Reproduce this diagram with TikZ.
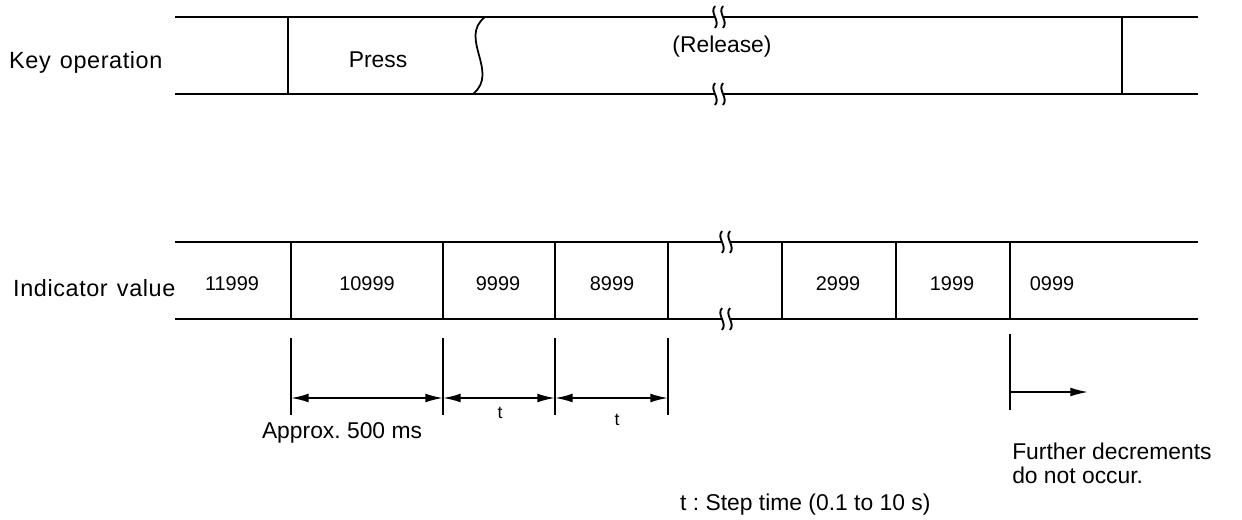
\documentclass[tikz,border=0pt]{standalone}
\usepackage{fontspec}
\setmainfont{Liberation Sans}
\newfontfamily\rowfont[LetterSpace=2.5,WordSpace=1.3]{Liberation Sans}
\usetikzlibrary{arrows.meta}
\frenchspacing

\tikzset{
  rail/.style={line width=2.1pt},
  divider/.style={line width=1.5pt},
  extline/.style={line width=1.2pt},
  breakmark/.style={line width=1.6pt},
  dimline/.style={line width=1.5pt, {Latex[length=15pt,width=7.5pt]}-{Latex[length=15pt,width=7.5pt]}},
  fwdline/.style={line width=1.4pt, -{Latex[length=15pt,width=7.5pt]}},
  rowlabel/.style={anchor=west, inner sep=0pt, font=\rowfont\fontsize{20}{24}\selectfont},
  note/.style={inner sep=0pt, font=\fontsize{19.5}{20.5}\selectfont},
  cellvalue/.style={inner sep=0pt, font=\fontsize{17}{20}\selectfont},
  steplbl/.style={inner sep=0pt, font=\fontsize{15}{17}\selectfont},
}

\begin{document}
\begin{tikzpicture}[x=0.03cm,y=-0.03cm]
  \useasboundingbox (0,0) rectangle (1242,519);

  % key operation row
  \draw[rail] (175,17) -- (715,17) (723,17) -- (1198,17);
  \draw[rail] (175,94) -- (715,94) (723,94) -- (1198,94);
  \draw[divider] (288,17) -- (288,94);
  \draw[divider] (1122,17) -- (1122,94);
  \draw[divider] (485,17) .. controls (458,38) and (500,72) .. (473,94);

  \node[rowlabel] (keylbl) at (9,62) {Key operation};
  \node[note] (press) at (378,60) {Press};
  \node[note] (release) at (722,47) {(Release)};

  % indicator row
  \draw[rail] (175,242) -- (722,242) (730,242) -- (1198,242);
  \draw[rail] (175,319) -- (722,319) (730,319) -- (1198,319);
  \foreach \x in {291,443,555,668,782,896,1010}
    \draw[divider] (\x,242) -- (\x,319);

  % break marks
  \foreach \bx/\by in {719/17, 719/94, 726/242, 726/319} {
    \draw[breakmark] (\bx-4,\by-11) .. controls (\bx-10,\by-4) and (\bx+2,\by+4) .. (\bx-4,\by+11);
    \draw[breakmark] (\bx+4,\by-11) .. controls (\bx-2,\by-4) and (\bx+10,\by+4) .. (\bx+4,\by+11);
  }

  \node[rowlabel] (indlbl) at (13,288) {Indicator value};
  \node[cellvalue] (v11999) at (232,284) {11999};
  \node[cellvalue] (v10999) at (367,284) {10999};
  \node[cellvalue] (v9999) at (498,284) {9999};
  \node[cellvalue] (v8999) at (612,284) {8999};
  \node[cellvalue] (v2999) at (838,284) {2999};
  \node[cellvalue] (v1999) at (952,284) {1999};
  \node[cellvalue] (v0999) at (1052,284) {0999};

  % timing extension lines
  \foreach \x/\n in {291/0,443/1,555/2,668/3} {
    \draw[extline] (\x,338) -- (\x,415);
    \coordinate (d\n) at (\x,398);
  }
  \draw[dimline] (d0) -- (d1);
  \draw[dimline] (d1) -- (d2);
  \draw[dimline] (d2) -- (d3);

  \draw[extline] (1010,334) -- (1010,410);
  \coordinate (fstart) at (1010,392);
  \coordinate (fend) at (1088,392);
  \draw[fwdline] (fstart) -- (fend);

  \node[note] (approx) at (342,433) {Approx. 500 ms};
  \node[steplbl] (tone) at (500,413) {t};
  \node[steplbl] (ttwo) at (617,420) {t};
  \node[note, anchor=west, align=left] (further) at (1012,463) {Further decrements\\do not occur.};
  \node[note, anchor=west] (stepnote) at (680,505) {t : Step time (0.1 to 10 s)};
\end{tikzpicture}
\end{document}
